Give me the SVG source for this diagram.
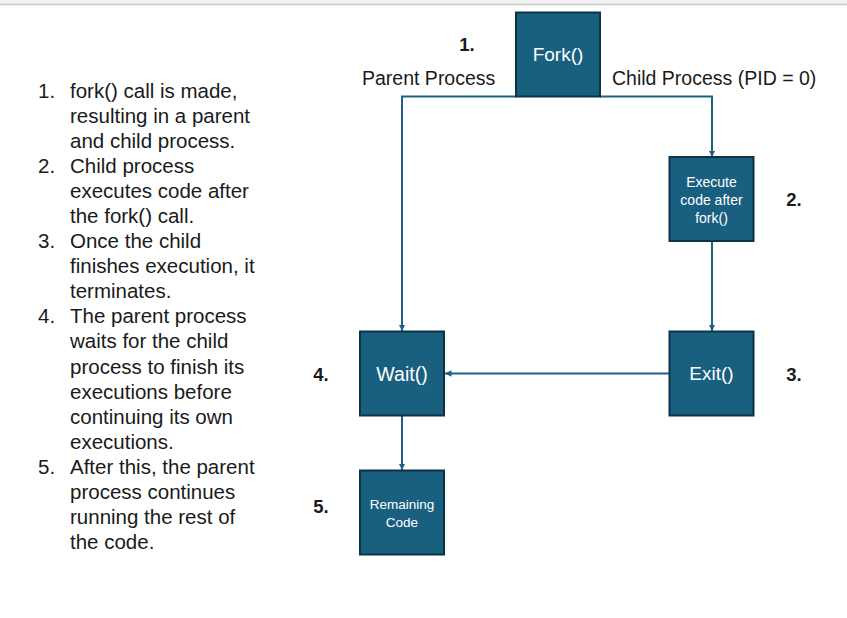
<svg xmlns="http://www.w3.org/2000/svg" width="847" height="618" viewBox="0 0 847 618">
<style>
.box{fill:#195f80;stroke:#0c3346;stroke-width:2}
.bt{font-family:"Liberation Sans",Arial,sans-serif;fill:#ffffff;text-anchor:middle;dominant-baseline:central}
.lab{font-family:"Liberation Sans",Arial,sans-serif;fill:#1a1a1a;font-size:19.5px}
.num{font-family:"Liberation Sans",Arial,sans-serif;fill:#1a1a1a;font-size:18.5px;font-weight:bold;text-anchor:middle;dominant-baseline:central}
.list{font-family:"Liberation Sans",Arial,sans-serif;fill:#1a1a1a;font-size:20.5px}
.con{fill:none;stroke:#1f6182;stroke-width:2;marker-end:url(#arr)}
</style>
<defs>
<marker id="arr" viewBox="0 0 8 8" refX="8" refY="4" markerWidth="6.5" markerHeight="6.5" markerUnits="userSpaceOnUse" orient="auto">
<path d="M0,0 L8,4 L0,8 z" fill="#1f6182"/>
</marker>
</defs>
<rect x="0" y="0" width="847" height="618" fill="#ffffff"/>
<rect x="0" y="0" width="847" height="4" fill="#f0f0f0"/>
<line x1="0" y1="4.5" x2="847" y2="4.5" stroke="#c8c8c8" stroke-width="1.5"/>

<g id="list">
<text class="list" x="38" y="98">1.</text>
<text class="list" x="70" y="98">fork() call is made,</text>
<text class="list" x="70" y="123">resulting in a parent</text>
<text class="list" x="70" y="148">and child process.</text>
<text class="list" x="38" y="173">2.</text>
<text class="list" x="70" y="173">Child process</text>
<text class="list" x="70" y="198">executes code after</text>
<text class="list" x="70" y="223">the fork() call.</text>
<text class="list" x="38" y="248">3.</text>
<text class="list" x="70" y="248">Once the child</text>
<text class="list" x="70" y="273">finishes execution, it</text>
<text class="list" x="70" y="298">terminates.</text>
<text class="list" x="38" y="323">4.</text>
<text class="list" x="70" y="323">The parent process</text>
<text class="list" x="70" y="348">waits for the child</text>
<text class="list" x="70" y="374">process to finish its</text>
<text class="list" x="70" y="399">executions before</text>
<text class="list" x="70" y="424">continuing its own</text>
<text class="list" x="70" y="449">executions.</text>
<text class="list" x="38" y="474">5.</text>
<text class="list" x="70" y="474">After this, the parent</text>
<text class="list" x="70" y="499">process continues</text>
<text class="list" x="70" y="524">running the rest of</text>
<text class="list" x="70" y="549">the code.</text>
</g>

<g id="connectors">
<path class="con" d="M516,96.5 H402 V331"/>
<path class="con" d="M600,96.5 H712 V157"/>
<path class="con" d="M712,241 V331"/>
<path class="con" d="M669,373.5 H445"/>
<path class="con" d="M402,416 V470"/>
</g>

<g id="fork">
<rect class="box" x="516" y="12.5" width="84" height="84"/>
<text class="bt" x="558" y="54" font-size="19px">Fork()</text>
</g>
<g id="execute">
<rect class="box" x="669.5" y="157" width="84" height="84"/>
<text class="bt" x="711.5" y="181.5" font-size="14px">Execute</text>
<text class="bt" x="711.5" y="199.5" font-size="14px">code after</text>
<text class="bt" x="711.5" y="217.5" font-size="14px">fork()</text>
</g>
<g id="exit">
<rect class="box" x="669.5" y="331.5" width="84" height="84"/>
<text class="bt" x="711.5" y="373.5" font-size="19px">Exit()</text>
</g>
<g id="wait">
<rect class="box" x="360" y="331.5" width="84" height="84"/>
<text class="bt" x="402" y="373.5" font-size="19.5px">Wait()</text>
</g>
<g id="remaining">
<rect class="box" x="360" y="470.5" width="84" height="84"/>
<text class="bt" x="402" y="504" font-size="13.5px">Remaining</text>
<text class="bt" x="402" y="522" font-size="13.5px">Code</text>
</g>

<g id="labels">
<text class="lab" x="362" y="85">Parent Process</text>
<text class="lab" x="612" y="85">Child Process (PID = 0)</text>
<text class="num" x="467" y="44">1.</text>
<text class="num" x="794" y="199">2.</text>
<text class="num" x="794" y="374">3.</text>
<text class="num" x="321" y="374">4.</text>
<text class="num" x="321" y="506">5.</text>
</g>
</svg>
